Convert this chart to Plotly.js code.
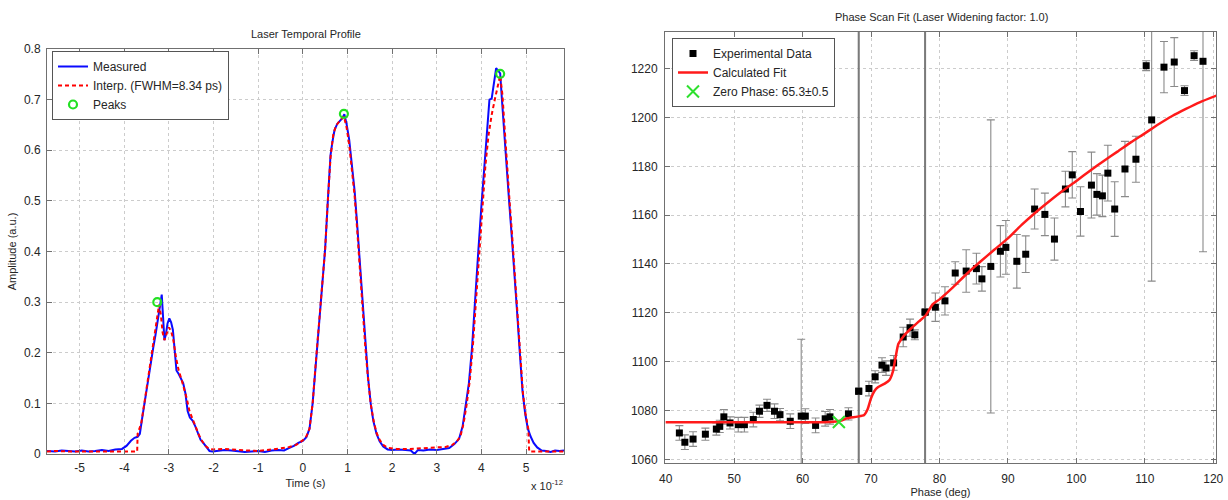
<!DOCTYPE html>
<html><head><meta charset="utf-8">
<script src="https://cdn.plot.ly/plotly-3.0.1.min.js"></script>
<style>html,body{margin:0;padding:0;background:#fff;} #chart{width:1228px;height:500px;}</style>
</head><body><div id="chart"></div>
<script>
// ---------- Left: Laser Temporal Profile (time in ps, axis multiplier x 10^-12 s) ----------
const measT = [-5.73,-5.55,-5.4,-5.25,-5.1,-4.95,-4.8,-4.65,-4.5,-4.35,-4.2,-4.05,-3.95,-3.85,-3.77,-3.7,-3.65,-3.6,-3.55,-3.5,-3.45,-3.4,-3.35,-3.3,-3.25,-3.2,-3.16,-3.13,-3.1,-3.07,-3.03,-2.99,-2.95,-2.91,-2.87,-2.83,-2.78,-2.73,-2.68,-2.63,-2.58,-2.53,-2.47,-2.41,-2.35,-2.29,-2.23,-2.16,-2.09,-2.02,-1.9,-1.75,-1.6,-1.45,-1.3,-1.15,-1.0,-0.85,-0.7,-0.55,-0.42,-0.3,-0.2,-0.1,0.0,0.08,0.15,0.22,0.29,0.36,0.43,0.5,0.56,0.62,0.66,0.71,0.77,0.83,0.88,0.93,0.98,1.04,1.1,1.16,1.22,1.28,1.34,1.4,1.46,1.52,1.58,1.65,1.72,1.8,1.9,2.0,2.15,2.3,2.42,2.5,2.58,2.7,2.85,3.0,3.15,3.28,3.4,3.5,3.58,3.65,3.72,3.79,3.86,3.93,4.0,4.06,4.11,4.15,4.18,4.23,4.28,4.33,4.37,4.42,4.46,4.51,4.56,4.62,4.68,4.74,4.8,4.86,4.92,4.98,5.04,5.1,5.17,5.25,5.35,5.45,5.55,5.65,5.75,5.85];
const measA = [0.006,0.005,0.007,0.006,0.005,0.007,0.005,0.006,0.008,0.006,0.009,0.01,0.016,0.026,0.032,0.034,0.04,0.07,0.1,0.128,0.155,0.182,0.21,0.235,0.262,0.29,0.315,0.27,0.225,0.235,0.258,0.268,0.26,0.245,0.2,0.165,0.158,0.15,0.14,0.12,0.085,0.072,0.066,0.055,0.04,0.028,0.022,0.013,0.006,0.005,0.007,0.008,0.007,0.005,0.004,0.005,0.006,0.004,0.007,0.008,0.007,0.012,0.016,0.022,0.026,0.033,0.05,0.1,0.18,0.26,0.33,0.405,0.5,0.59,0.615,0.64,0.652,0.658,0.663,0.671,0.652,0.62,0.57,0.52,0.45,0.37,0.29,0.215,0.152,0.1,0.065,0.04,0.025,0.015,0.009,0.008,0.009,0.008,0.007,0.0,0.008,0.007,0.009,0.008,0.01,0.012,0.02,0.03,0.055,0.095,0.14,0.21,0.295,0.4,0.49,0.565,0.62,0.66,0.7,0.702,0.735,0.762,0.758,0.752,0.7,0.632,0.565,0.5,0.43,0.36,0.28,0.2,0.125,0.08,0.05,0.035,0.022,0.013,0.007,0.006,0.004,0.007,0.006,0.007];
const interpT = [-5.73,-5.5,-5.25,-5.0,-4.75,-4.5,-4.25,-4.0,-3.85,-3.71,-3.7,-3.62,-3.55,-3.48,-3.41,-3.34,-3.28,-3.22,-3.18,-3.14,-3.1,-3.05,-3.0,-2.95,-2.9,-2.84,-2.78,-2.72,-2.66,-2.6,-2.54,-2.47,-2.4,-2.33,-2.26,-2.18,-2.1,-2.0,-1.75,-1.5,-1.25,-1.0,-0.75,-0.5,-0.3,-0.15,0.0,0.08,0.15,0.22,0.29,0.36,0.43,0.5,0.56,0.62,0.68,0.74,0.8,0.86,0.92,0.98,1.04,1.1,1.16,1.22,1.28,1.34,1.4,1.46,1.52,1.58,1.65,1.72,1.8,1.9,2.1,2.4,2.7,3.0,3.2,3.35,3.45,3.53,3.6,3.67,3.74,3.81,3.88,3.95,4.02,4.09,4.16,4.23,4.3,4.36,4.42,4.47,4.52,4.57,4.63,4.69,4.75,4.81,4.87,4.93,4.99,5.05,5.07,5.2,5.4,5.6,5.85];
const interpA = [0.005,0.006,0.005,0.005,0.006,0.005,0.005,0.006,0.005,0.005,0.04,0.06,0.1,0.14,0.18,0.22,0.255,0.295,0.275,0.24,0.225,0.238,0.25,0.243,0.225,0.19,0.165,0.148,0.13,0.11,0.085,0.068,0.055,0.038,0.026,0.016,0.01,0.009,0.01,0.008,0.007,0.006,0.008,0.011,0.014,0.018,0.027,0.035,0.05,0.1,0.18,0.26,0.33,0.405,0.5,0.585,0.63,0.648,0.655,0.66,0.667,0.645,0.61,0.56,0.51,0.44,0.36,0.28,0.21,0.15,0.1,0.068,0.042,0.028,0.018,0.012,0.01,0.01,0.011,0.012,0.014,0.018,0.025,0.035,0.06,0.098,0.145,0.215,0.3,0.4,0.49,0.57,0.63,0.67,0.7,0.725,0.748,0.71,0.64,0.575,0.5,0.43,0.355,0.27,0.19,0.12,0.078,0.05,0.005,0.005,0.006,0.005,0.005];
const peaksT = [-3.26, 0.92, 4.42];
const peaksA = [0.30, 0.672, 0.751];
const timeTickVals = [-5,-4,-3,-2,-1,0,1,2,3,4,5];
const timeTickText = ["-5","-4","-3","-2","-1","0","1","2","3","4","5"];

// ---------- Right: Phase Scan Fit ----------
const expX = [42.0,42.8,44.0,45.8,47.4,47.9,48.5,49.4,50.6,51.5,52.8,53.7,54.8,55.9,56.7,58.2,59.8,60.4,61.9,63.3,64.0,66.7,68.2,69.7,70.6,71.6,72.2,73.3,74.7,75.7,76.4,77.9,79.4,80.8,82.3,83.9,85.4,86.2,87.5,88.9,89.7,91.3,92.6,93.9,95.4,96.8,98.4,99.4,100.6,102.2,103.0,103.8,104.6,105.6,107.1,108.7,110.2,111.0,112.8,114.3,115.8,117.2,118.5];
const expY = [1070.8,1067.0,1068.3,1070.3,1072.4,1073.5,1077.4,1074.9,1074.2,1074.2,1076.3,1079.7,1082.1,1079.7,1078.3,1075.6,1077.7,1077.7,1073.9,1076.6,1077.4,1078.6,1087.9,1089.0,1093.8,1098.6,1097.4,1099.5,1110.1,1113.9,1111.0,1120.3,1122.3,1124.9,1136.3,1137.1,1138.1,1133.9,1139.0,1145.2,1146.8,1141.1,1144.0,1162.5,1160.3,1150.2,1170.7,1176.5,1161.5,1172.3,1168.5,1167.9,1177.2,1162.5,1178.9,1182.9,1221.2,1199.0,1220.6,1222.7,1211.0,1225.3,1223.0];
const expErr = [3,3,3,2.5,2.5,2.5,3,2.5,3,3,3,2.5,2.5,3,2.5,3,31.5,3,3,3,3,2.5,250,3,2.5,3,3,3,4,3.5,2,250,5.8,5.8,4.6,8.7,6.3,5,60,10.5,11,11,7.5,8.2,8.7,8.6,7.3,9.5,10.1,13.5,8.5,8.5,11.4,11.2,11.3,9.4,2,66,10.5,10,2,2,78];
const fitX = [40,50,60,64,65.5,66.5,68,69,69.5,70,70.5,71,72,72.7,73.2,73.6,74,74.5,75,76,77,78,79,80,82,84,86,88,90,92,94,96,98,100,102,104,106,108,110,112,114,116,118,120.5];
const fitY = [1075.2,1075.2,1075.2,1075.3,1075.8,1076.8,1077.5,1078.2,1080.5,1085,1088,1089.5,1091,1092.5,1096,1102,1107.3,1109.5,1111.3,1114,1116.5,1119,1123.5,1125.5,1130.5,1136,1141,1145.8,1150.5,1156,1161,1165.6,1170,1174,1178.2,1182.2,1186,1189.9,1193.5,1197.2,1200.6,1203.5,1206.2,1209];
const zeroX = [65.3];
const zeroY = [1075.3];

const satIdx = expErr.map((e,i)=>e>100?i:-1).filter(i=>i>=0);

const W = 1228, H = 500;
const px = x => x / W;
const py = y => 1 - y / H;
const FONT = 'Liberation Sans, Arial, Helvetica, sans-serif';
const TXT = '#262626';

const traces = [
  {x: measT, y: measA, type:'scatter', mode:'lines', name:'Measured',
   line:{color:'#0a0aff', width:2}, xaxis:'x', yaxis:'y', legend:'legend'},
  {x: interpT, y: interpA, type:'scatter', mode:'lines', name:'Interp. (FWHM=8.34 ps)',
   line:{color:'#ff0000', width:2, dash:'4px,3px'}, xaxis:'x', yaxis:'y', legend:'legend'},
  {x: peaksT, y: peaksA, type:'scatter', mode:'markers', name:'Peaks',
   marker:{symbol:'circle-open', size:8, color:'#22e022', line:{width:2.2, color:'#22e022'}}, xaxis:'x', yaxis:'y', legend:'legend'},

  {x: expX, y: expY, type:'scatter', mode:'markers', name:'Experimental Data',
   marker:{symbol:'square', size:7, color:'#000'},
   error_y:{type:'data', array: expErr, visible:true, color:'#8a8a8a', thickness:1.1, width:4},
   xaxis:'x2', yaxis:'y2', legend:'legend2'},
  {x: satIdx.map(i=>expX[i]), y: satIdx.map(i=>expY[i]), type:'scatter', mode:'markers', showlegend:false,
   marker:{symbol:'square', size:7, color:'#000'}, hoverinfo:'skip',
   error_y:{type:'data', array: satIdx.map(i=>expErr[i]), visible:true, color:'#7a7a7a', thickness:2, width:0},
   xaxis:'x2', yaxis:'y2', legend:'legend2'},
  {x: fitX, y: fitY, type:'scatter', mode:'lines', name:'Calculated Fit', line:{color:'#ff1a1a', width:2.5, shape:'spline', smoothing:0.6},
   xaxis:'x2', yaxis:'y2', legend:'legend2'},
  {x: zeroX, y: zeroY, type:'scatter', mode:'markers', name:'Zero Phase: 65.3\u00b10.5',
   marker:{symbol:'x-thin', size:12, color:'#2ee02e', line:{width:2, color:'#2ee02e'}},
   xaxis:'x2', yaxis:'y2', legend:'legend2'}
];

const axBase = {
  showline:true, linecolor:'#707070', linewidth:1, mirror:'ticks',
  ticks:'inside', ticklen:5, tickcolor:'#707070', tickwidth:1,
  showgrid:true, gridcolor:'#cccccc', griddash:'dot', gridwidth:1,
  zeroline:false, automargin:false, tickfont:{size:12, color:TXT, family:FONT}
};

const layout = {
  width: W, height: H,
  margin:{l:0, r:0, t:0, b:0},
  paper_bgcolor:'#fff', plot_bgcolor:'#fff',
  font:{family:FONT, color:TXT, size:12},
  showlegend:true,
  xaxis: Object.assign({}, axBase, {domain:[px(47), px(564)], range:[-5.73, 5.85], anchor:'y',
    tickmode:'array', tickvals: timeTickVals, ticktext: timeTickText, ticklabelstandoff:3,
    title:{text:'Time (s)', font:{size:11, color:TXT}, standoff:4}}),
  yaxis: Object.assign({}, axBase, {domain:[py(454), py(49)], range:[0, 0.8], dtick:0.1, tick0:0, anchor:'x',
    ticklabelstandoff:3,
    title:{text:'Amplitude (a.u.)', font:{size:11, color:TXT}, standoff:5}}),
  xaxis2: Object.assign({}, axBase, {domain:[px(665), px(1216)], range:[39.9, 120.4], dtick:10, tick0:40, anchor:'y2',
    ticklabelstandoff:5,
    title:{text:'Phase (deg)', font:{size:11, color:TXT}, standoff:2}}),
  yaxis2: Object.assign({}, axBase, {domain:[py(463), py(32)], range:[1058.5, 1235], dtick:20, tick0:1060, anchor:'x2',
    ticklabelstandoff:4}),
  legend:{x:px(52), y:py(51), xanchor:'left', yanchor:'top', bgcolor:'#fff', bordercolor:'#555', borderwidth:1,
    font:{size:12, color:TXT, family:FONT}, tracegroupgap:0},
  legend2:{x:px(672), y:py(38), xanchor:'left', yanchor:'top', bgcolor:'#fff', bordercolor:'#555', borderwidth:1,
    font:{size:12, color:TXT, family:FONT}, tracegroupgap:0},
  annotations:[
    {text:'Laser Temporal Profile', xref:'paper', yref:'paper', x:px(305.5), y:py(34), xanchor:'center', yanchor:'middle',
     showarrow:false, font:{size:11, color:TXT}},
    {text:'Phase Scan Fit (Laser Widening factor: 1.0)', xref:'paper', yref:'paper', x:px(941), y:py(17), xanchor:'center', yanchor:'middle',
     showarrow:false, font:{size:11, color:TXT}},
    {text:'x 10<sup>-12</sup>', xref:'paper', yref:'paper', x:px(565), y:py(485), xanchor:'right', yanchor:'middle',
     showarrow:false, font:{size:11, color:TXT}}
  ]
};

Plotly.newPlot('chart', traces, layout, {staticPlot:true, displayModeBar:false});
</script>
</body></html>
